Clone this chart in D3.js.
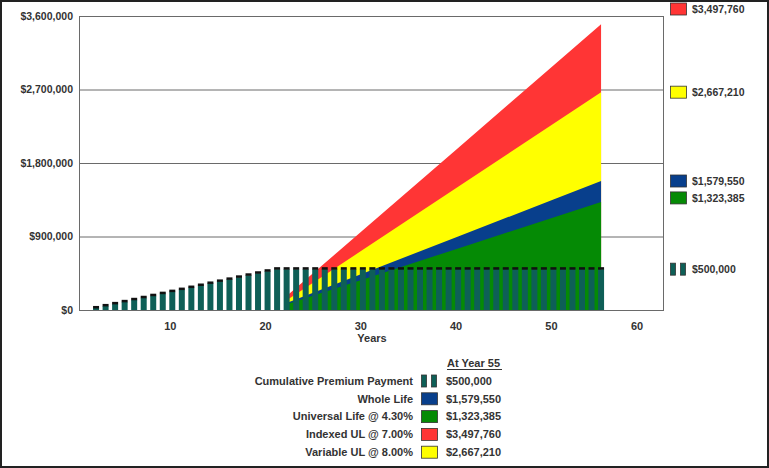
<!DOCTYPE html>
<html><head><meta charset="utf-8">
<script src="https://cdn.jsdelivr.net/npm/d3@7"></script>
<style>
html,body{margin:0;padding:0;background:#fff;}
text{font-family:"Liberation Sans",Arial,sans-serif;font-weight:bold;fill:#333;}
</style></head>
<body><svg id="c" width="769" height="468"></svg>
<script>
// ---- data ----
const premiumYears = [2,3,4,5,6,7,8,9,10,11,12,13,14,15,16,17,18,19,20,21,22,23,24,25,26,27,28,29,30,31,32,33,34,35,36,37,38,39,40,41,42,43,44,45,46,47,48,49,50,51,52,53,54,55];
const premiumValues = [25000,50000,75000,100000,125000,150000,175000,200000,225000,250000,275000,300000,325000,350000,375000,400000,425000,450000,475000,500000,
 500000,500000,500000,500000,500000,500000,500000,500000,500000,500000,500000,500000,500000,500000,500000,500000,500000,500000,500000,500000,500000,500000,500000,500000,500000,500000,500000,500000,500000,500000,500000,500000,500000,500000];
const areaYears = [22,30,40,50,55];
const indexedUL = [170000,977000,1985000,2994000,3497760];
const variableUL = [120000,737000,1509000,2281000,2667210];
const wholeLife = [85000,447000,900000,1353000,1579550];
const universalLife = [70000,374000,754000,1133000,1323385];
const yTicks = [0,900000,1800000,2700000,3600000];
const xTicks = [10,20,30,40,50,60];
const legendNames = ["Cumulative Premium Payment","Whole Life","Universal Life @ 4.30%","Indexed UL @ 7.00%","Variable UL @ 8.00%"];
const legendValues = [500000,1579550,1323385,3497760,2667210];
const legendKeys = ["premium","whole","universal","indexed","variable"];
const colors = {premium:"#0e5f57",whole:"#083f8c",universal:"#058a05",indexed:"#ff3535",variable:"#ffff00"};

const svg = d3.select("#c");
const L=79, R=663, T=16, B=310;
const x = d3.scaleLinear().domain([0,61.5]).range([77,663]);
const y = d3.scaleLinear().domain([0,3600000]).range([B,T]);
const fmt = v => "$" + d3.format(",")(v);

// frame
svg.append("rect").attr("x",1).attr("y",1).attr("width",767).attr("height",466)
  .attr("fill","none").attr("stroke","#222").attr("stroke-width",2);

// grid
svg.append("g").selectAll("line").data(yTicks).join("line")
  .attr("x1",L).attr("x2",R).attr("y1",d=>y(d)+0.5).attr("y2",d=>y(d)+0.5)
  .attr("stroke","#6a6a6a").attr("stroke-width",1);
svg.append("line").attr("x1",L+0.5).attr("x2",L+0.5).attr("y1",T).attr("y2",B+1).attr("stroke","#6a6a6a");
svg.append("line").attr("x1",R+0.5).attr("x2",R+0.5).attr("y1",T).attr("y2",B+1).attr("stroke","#6a6a6a");

// areas
const area = d3.area().x((d,i)=>x(areaYears[i])).y0(y(0)).y1(d=>y(d));
[["indexed",indexedUL],["variable",variableUL],["whole",wholeLife],["universal",universalLife]].forEach(([k,vals])=>{
  svg.append("path").datum(vals).attr("d",area).attr("fill",colors[k]);
});

// bars
const bw = 6;
const bars = svg.append("g");
premiumYears.forEach((yr,i)=>{
  const v = premiumValues[i];
  bars.append("rect").attr("x",x(yr)-bw/2).attr("width",bw)
    .attr("y",y(v)).attr("height",y(0)-y(v)).attr("fill",colors.premium);
  bars.append("rect").attr("x",x(yr)-bw/2).attr("width",bw)
    .attr("y",y(v)-2).attr("height",2.5).attr("fill","#111");
});

// y labels
svg.append("g").selectAll("text").data(yTicks).join("text")
  .attr("x",73).attr("y",d=>y(d)).attr("dy","0.35em").attr("text-anchor","end")
  .attr("font-size",10.5).text(d=>fmt(d));
// x labels
svg.append("g").selectAll("text").data(xTicks).join("text")
  .attr("x",d=>Math.min(x(d)-2, R-26)).attr("y",330).attr("text-anchor","middle")
  .attr("font-size",11).text(d=>d);
svg.append("text").attr("x",372).attr("y",342).attr("text-anchor","middle").attr("font-size",11).text("Years");

// swatch helper
function swatch(g,k,sx,sy){
  if(k==="premium"){
    g.append("rect").attr("x",sx+0.5).attr("y",sy+0.5).attr("width",5).attr("height",12).attr("fill",colors.premium).attr("stroke","#333").attr("stroke-width",0.8);
    g.append("rect").attr("x",sx+10.5).attr("y",sy+0.5).attr("width",5).attr("height",12).attr("fill",colors.premium).attr("stroke","#333").attr("stroke-width",0.8);
  } else {
    g.append("rect").attr("x",sx+0.5).attr("y",sy+0.5).attr("width",16).attr("height",12).attr("fill",colors[k]).attr("stroke","#333").attr("stroke-width",0.8);
  }
}

// right legend at value heights
const rl = svg.append("g");
legendKeys.forEach((k,i)=>{
  let cy = y(legendValues[i]);
  if (cy < T + 15) cy = T - 7;
  if (k==="universal") cy -= 4;
  swatch(rl,k,670,cy-6.5);
  rl.append("text").attr("x",692).attr("y",cy).attr("dy","0.35em").attr("font-size",10.5).text(fmt(legendValues[i]));
});

// bottom legend
const bl = svg.append("g");
bl.append("text").attr("x",447).attr("y",367).attr("font-size",11).text("At Year 55");
bl.append("line").attr("x1",447).attr("x2",502).attr("y1",369.5).attr("y2",369.5).attr("stroke","#333").attr("stroke-width",1);
legendKeys.forEach((k,i)=>{
  const cy = 381 + i*17.8;
  bl.append("text").attr("x",413).attr("y",cy).attr("dy","0.35em").attr("text-anchor","end").attr("font-size",11).text(legendNames[i]);
  swatch(bl,k,421,cy-6.5);
  bl.append("text").attr("x",446).attr("y",cy).attr("dy","0.35em").attr("font-size",11).text(fmt(legendValues[i]));
});
</script></body></html>
